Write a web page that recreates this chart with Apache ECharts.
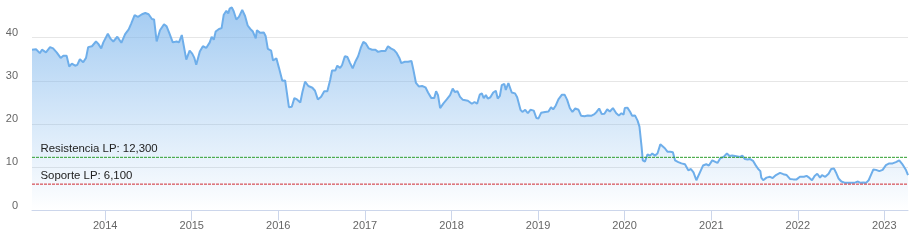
<!DOCTYPE html>
<html>
<head>
<meta charset="utf-8">
<script src="https://cdn.jsdelivr.net/npm/echarts@6/dist/echarts.min.js"></script>
<style>
html,body{margin:0;padding:0;background:#fff;}
#chart{width:916px;height:245px;}
</style>
</head>
<body>
<div id="chart"></div>
<script>
var dates = [
'2013-02-26','2013-03-15','2013-03-31','2013-04-09','2013-04-26','2013-05-13','2013-05-26','2013-06-10','2013-06-27','2013-07-08',
'2013-07-22','2013-08-02','2013-08-13','2013-08-27','2013-09-05','2013-09-16','2013-09-30','2013-10-12','2013-10-21','2013-11-06',
'2013-11-23','2013-12-02','2013-12-15','2013-12-24','2014-01-12','2014-01-24','2014-02-04','2014-02-21','2014-03-10','2014-03-26',
'2014-04-10','2014-04-21','2014-05-05','2014-05-19','2014-06-05','2014-06-19','2014-07-03','2014-07-17','2014-07-26','2014-08-06',
'2014-08-20','2014-09-06','2014-09-17','2014-09-28','2014-10-13','2014-10-29','2014-11-08','2014-11-20','2014-12-09','2014-12-23',
'2015-01-03','2015-01-12','2015-01-20','2015-02-04','2015-02-17','2015-03-03','2015-03-18','2015-03-26','2015-04-04','2015-04-12',
'2015-04-26','2015-05-07','2015-05-16','2015-05-27','2015-06-04','2015-06-10','2015-06-19','2015-06-27','2015-07-08','2015-07-19',
'2015-08-02','2015-08-14','2015-08-25','2015-09-05','2015-09-16','2015-09-28','2015-10-03','2015-10-17','2015-11-01','2015-11-09',
'2015-11-18','2015-12-02','2015-12-10','2015-12-24','2016-01-04','2016-01-18','2016-01-30','2016-02-15','2016-02-27','2016-03-09',
'2016-03-20','2016-04-03','2016-04-12','2016-04-23','2016-05-07','2016-05-24','2016-06-04','2016-06-16','2016-06-30','2016-07-13',
'2016-07-26','2016-08-07','2016-08-15','2016-08-29','2016-09-06','2016-09-18','2016-09-26','2016-10-08','2016-10-19','2016-10-30',
'2016-11-10','2016-11-21','2016-12-03','2016-12-14','2016-12-25','2017-01-05','2017-01-17','2017-01-31','2017-02-14','2017-02-25',
'2017-03-11','2017-03-28','2017-04-08','2017-04-20','2017-05-04','2017-05-15','2017-05-26','2017-06-03','2017-06-18','2017-07-02',
'2017-07-16','2017-07-24','2017-08-04','2017-08-16','2017-08-30','2017-09-13','2017-09-24','2017-10-08','2017-10-20','2017-10-28',
'2017-11-05','2017-11-14','2017-11-28','2017-12-12','2017-12-26','2018-01-06','2018-01-15','2018-01-26','2018-02-06','2018-02-18',
'2018-02-26','2018-03-11','2018-03-19','2018-03-28','2018-04-08','2018-04-19','2018-04-30','2018-05-09','2018-05-17','2018-05-26',
'2018-06-03','2018-06-14','2018-06-26','2018-07-07','2018-07-15','2018-07-24','2018-08-01','2018-08-12','2018-08-18','2018-08-29',
'2018-09-12','2018-09-26','2018-10-05','2018-10-19','2018-10-27','2018-11-08','2018-11-19','2018-11-30','2018-12-14','2018-12-25',
'2019-01-03','2019-01-14','2019-01-31','2019-02-14','2019-02-25','2019-03-06','2019-03-17','2019-03-28','2019-04-12','2019-04-23',
'2019-05-04','2019-05-15','2019-05-26','2019-06-07','2019-06-21','2019-07-02','2019-07-16','2019-07-30','2019-08-13','2019-08-27',
'2019-09-05','2019-09-16','2019-09-27','2019-10-08','2019-10-20','2019-10-31','2019-11-13','2019-11-27','2019-12-08','2019-12-19',
'2019-12-28','2020-01-02','2020-01-13','2020-01-25','2020-02-02','2020-02-14','2020-02-25','2020-03-04','2020-03-13','2020-03-18',
'2020-03-27','2020-04-07','2020-04-18','2020-04-27','2020-05-08','2020-05-19','2020-05-31','2020-06-08','2020-06-19','2020-06-30',
'2020-07-12','2020-07-23','2020-08-01','2020-08-15','2020-08-28','2020-09-12','2020-09-26','2020-10-07','2020-10-18','2020-10-30',
'2020-11-07','2020-11-18','2020-11-27','2020-12-11','2020-12-22','2021-01-05','2021-01-16','2021-01-27','2021-02-08','2021-02-22',
'2021-03-08','2021-03-19','2021-03-30','2021-04-11','2021-04-19','2021-05-03','2021-05-12','2021-05-23','2021-06-03','2021-06-14',
'2021-06-26','2021-07-07','2021-07-18','2021-07-27','2021-07-31','2021-08-08','2021-08-22','2021-09-06','2021-09-17','2021-10-01',
'2021-10-18','2021-11-01','2021-11-15','2021-11-29','2021-12-13','2021-12-27','2022-01-10','2022-01-27','2022-02-07','2022-02-18',
'2022-03-02','2022-03-13','2022-03-24','2022-04-05','2022-04-13','2022-04-27','2022-05-11','2022-05-22','2022-06-03','2022-06-11',
'2022-06-22','2022-07-04','2022-07-20','2022-08-06','2022-08-20','2022-09-01','2022-09-12','2022-09-23','2022-10-04','2022-10-16',
'2022-10-27','2022-11-04','2022-11-16','2022-11-27','2022-12-11','2022-12-25','2023-01-08','2023-01-22','2023-02-05','2023-02-19',
'2023-03-05','2023-03-17','2023-03-25','2023-04-03','2023-04-11'
];
var prices = [
37.2,37.3,36.4,37.2,36.6,37.8,37.5,36.6,35.3,35.8,
35.8,33.3,34.0,33.5,33.7,35.0,34.3,35.3,37.8,38.0,
39.1,38.6,37.5,38.9,40.9,39.7,39.1,40.2,38.8,40.8,
41.9,43.3,45.2,44.8,45.4,45.7,45.4,44.3,44.2,39.1,
41.7,43.1,42.6,41.1,38.9,39.1,38.9,40.6,34.9,37.0,
36.3,35.3,33.7,36.8,38.0,37.6,38.9,40.2,39.5,41.4,
42.0,42.2,45.3,46.2,45.6,46.7,47.0,46.1,44.2,44.8,
46.4,45.0,42.8,42.0,41.4,39.8,41.7,41.1,41.2,40.3,
37.4,37.0,34.7,35.2,33.0,30.0,30.1,23.9,24.0,26.0,
25.7,25.0,27.4,29.8,28.8,28.4,27.7,25.7,26.3,27.6,
27.6,30.2,32.4,32.4,33.5,33.0,33.6,35.7,35.5,34.1,
32.9,34.4,35.7,37.6,39.0,38.6,37.5,37.2,37.2,36.7,
36.9,36.9,38.0,37.5,37.1,36.4,35.3,34.1,34.4,34.4,
34.6,32.6,29.5,28.7,28.8,28.5,27.3,26.0,26.0,27.6,
26.7,23.7,24.8,25.7,26.7,28.2,27.4,27.6,26.3,25.6,
26.0,25.4,25.7,24.7,25.1,24.7,26.8,27.1,26.0,26.7,
25.9,26.2,27.3,27.7,25.9,26.5,29.0,29.3,27.9,29.5,
27.3,27.1,26.2,23.3,22.8,23.3,22.5,23.3,23.1,21.4,
21.3,22.6,22.8,22.9,23.9,23.4,24.3,25.7,26.8,26.8,
25.6,23.7,22.8,23.6,23.3,21.9,21.8,22.0,21.9,22.3,
22.8,23.6,22.3,22.4,23.4,22.9,23.7,22.5,22.0,22.5,
22.2,23.7,23.8,22.8,21.9,22.0,20.8,19.4,14.7,11.6,
11.3,13.0,12.7,13.2,12.7,13.2,15.3,15.7,14.4,13.6,
13.6,13.5,11.6,11.2,10.9,10.7,9.3,9.6,8.8,7.0,
7.4,9.3,10.4,10.7,10.4,11.6,11.3,11.0,12.1,12.4,
13.2,12.6,12.7,12.6,12.3,12.4,12.7,11.9,11.8,11.9,
11.5,10.5,9.6,9.1,7.6,7.0,7.6,7.8,7.5,8.2,
8.7,8.4,8.2,7.3,7.2,7.2,7.8,7.8,8.0,7.6,
7.0,8.0,8.5,7.6,8.2,7.8,8.5,9.6,9.7,8.8,
7.4,6.7,6.4,6.4,6.4,6.5,6.7,6.4,6.5,6.4,
7.0,8.0,9.5,9.4,9.1,9.4,10.5,10.9,10.9,11.2,
11.6,10.8,10.1,9.3,8.2
];
var yTicks = [0,10,20,30,40];
var resistance = 12.3;
var resistanceLabel = 'Resistencia LP: 12,300';
var support = 6.1;
var supportLabel = 'Soporte LP: 6,100';

var seriesData = dates.map(function (d, i) { return [d, prices[i]]; });
var firstDate = dates[0];
var lastDate = dates[dates.length - 1];
var DAY = 86400000;
var GREEN = '#2e9e2e';
var RED = '#d02a30';
var axisFont = '"Liberation Sans", Arial, sans-serif';

function levelSeries(name, level, text, color) {
  return {
    name: name,
    type: 'line',
    silent: true,
    z: 5,
    symbol: 'circle',
    symbolSize: 1,
    showSymbol: true,
    color: color,
    itemStyle: {color: 'rgba(0,0,0,0)', borderWidth: 0},
    lineStyle: {color: color, type: [3, 1], width: 1},
    data: [
      {
        value: [firstDate, level],
        label: {
          show: true,
          formatter: text,
          position: [9, -13],
          align: 'left',
          verticalAlign: 'top',
          color: '#222222',
          opacity: 1,
          fontSize: 11.4,
          fontFamily: axisFont
        }
      },
      {value: [lastDate, level]}
    ]
  };
}

var chart = echarts.init(document.getElementById('chart'), null, {renderer: 'canvas'});
chart.setOption({
  animation: false,
  backgroundColor: '#ffffff',
  grid: {left: 32, right: 8, top: 0, bottom: 34.5, containLabel: false},
  xAxis: {
    type: 'time',
    min: 'dataMin',
    max: 'dataMax',
    minInterval: 365 * DAY,
    maxInterval: 366 * DAY,
    axisLine: {show: true, lineStyle: {color: '#ccd6eb', width: 1}},
    axisTick: {show: true, length: 10, lineStyle: {color: '#ccd6eb'}},
    axisLabel: {
      color: '#666666',
      fontSize: 11,
      fontFamily: axisFont,
      margin: 10,
      showMinLabel: false,
      showMaxLabel: false,
      formatter: function (v) { return String(new Date(v).getFullYear()); }
    },
    splitLine: {show: false}
  },
  yAxis: {
    type: 'value',
    min: 0,
    max: 48.7,
    interval: 10,
    axisLine: {show: false},
    axisTick: {show: false},
    axisLabel: {
      color: '#666666',
      fontSize: 11,
      fontFamily: axisFont,
      margin: 14,
      showMaxLabel: false,
      verticalAlign: 'bottom',
      lineHeight: 10,
      formatter: function (v) { return yTicks.indexOf(v) >= 0 ? String(v) : ''; }
    },
    splitLine: {show: true, showMaxLine: false, lineStyle: {color: '#e6e6e6', width: 1}}
  },
  series: [{
    name: 'price',
    type: 'line',
    data: seriesData,
    showSymbol: false,
    symbol: 'none',
    z: 2,
    lineStyle: {color: '#6eaeea', width: 2},
    itemStyle: {color: '#6eaeea'},
    areaStyle: {
      color: new echarts.graphic.LinearGradient(0, 0, 0, 1, [
        {offset: 0, color: 'rgba(124,181,236,1)'},
        {offset: 1, color: 'rgba(124,181,236,0)'}
      ])
    }
  },
  levelSeries('resistance', resistance, resistanceLabel, GREEN),
  levelSeries('support', support, supportLabel, RED)
  ]
});
</script>
</body>
</html>
